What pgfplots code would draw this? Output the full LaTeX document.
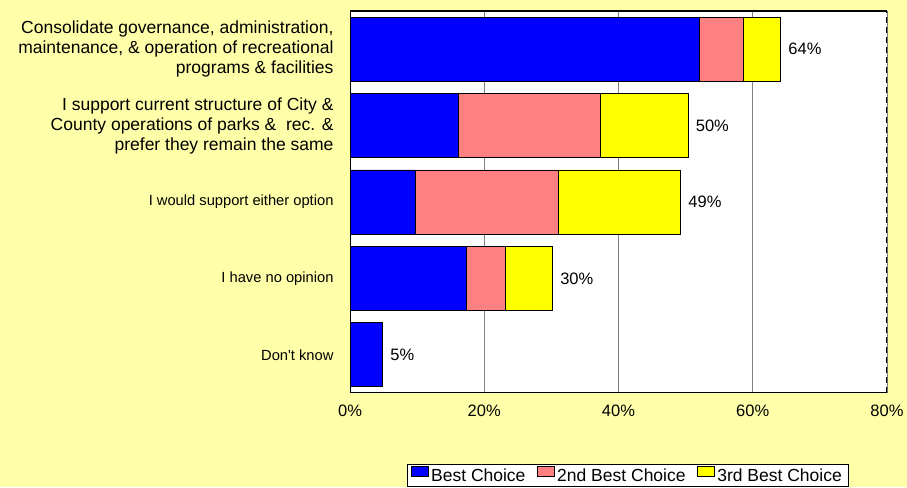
\documentclass[border=0pt]{standalone}
\usepackage{pgfplots}
\pgfplotsset{compat=1.18}
\usepackage{fontspec}
\setmainfont{Liberation Sans}
\definecolor{bg}{RGB}{255,255,170}
\definecolor{cblue}{RGB}{0,0,255}
\definecolor{cpink}{RGB}{255,128,128}
\definecolor{cyellow}{RGB}{255,255,0}
\definecolor{gridc}{RGB}{128,128,128}
\pgfplotsset{
  legsq/.style={legend image code/.code={%
    \draw[fill=#1,draw=black,line width=0.7pt] (0pt,-1pt) rectangle (17pt,9pt);}}}
\begin{document}
\begin{tikzpicture}[x=1pt,y=1pt]
\fill[bg] (0,0) rectangle (907,487);
\begin{axis}[
  at={(350pt,94pt)}, anchor=south west,
  width=537pt, height=382pt, scale only axis,
  xbar stacked, bar width=64pt,
  stacked ignores zero=false,
  xmin=0, xmax=80, ymin=-0.5, ymax=4.5,
  xtick={0,20,40,60,80},
  xticklabel={\pgfmathprintnumber{\tick}\%},
  /pgf/number format/assume math mode=true,
  xticklabel style={font=\fontsize{16.5}{19}\selectfont, yshift=-8pt},
  ytick={0,1,2,3,4},
  yticklabels={
    {\fontsize{14.7}{17}\selectfont Don\textquotesingle t know},
    {\fontsize{14.7}{17}\selectfont I have no opinion},
    {\fontsize{14.7}{17}\selectfont I would support either option},
    {I support current structure of City \&\\County operations of parks \&\ \ rec. \&\\prefer they remain the same},
    {Consolidate governance, administration,\\maintenance, \& operation of recreational\\programs \& facilities}},
  yticklabel style={font=\fontsize{17.5}{20}\selectfont, align=right, xshift=-13pt},
  tick style={draw=none},
  xmajorgrids, major grid style={gridc, line width=0.8pt},
  axis line style={draw=none},
  axis background/.style={fill=white},
  legend style={at={(0.517,-0.216)}, anchor=center, legend columns=-1,
    draw=black, line width=0.8pt, fill=white,
    font=\fontsize{17.5}{20}\selectfont, inner xsep=4pt, inner ysep=2pt,
    nodes={inner xsep=2.5pt},
    /tikz/every even column/.append style={column sep=9pt}},
  legend cell align=left,
]
\addplot[fill=cblue, draw=black, line width=0.9pt, legsq=cblue] coordinates {
  (4.9,0) (17.4,1) (9.7,2) (16.2,3) (52.0,4)};
\addlegendentry{Best Choice}
\addplot[fill=cpink, draw=black, line width=0.9pt, legsq=cpink] coordinates {
  (0,0) (5.8,1) (21.3,2) (21.1,3) (6.6,4)};
\addlegendentry{2nd Best Choice}
\addplot[fill=cyellow, draw=black, line width=0.9pt, legsq=cyellow] coordinates {
  (0,0) (7.0,1) (18.3,2) (13.1,3) (5.6,4)};
\addlegendentry{3rd Best Choice}
\addplot[draw=none, fill=none, forget plot,
  nodes near coords, point meta=explicit symbolic,
  every node near coord/.style={anchor=west, xshift=4pt, black,
    font=\fontsize{16.5}{19}\selectfont}] coordinates {
  (0,0) [5\%] (0,1) [30\%] (0,2) [49\%] (0,3) [50\%] (0,4) [64\%]};
\draw[black, line width=1.2pt] (rel axis cs:0,1) -- (rel axis cs:0,0) -- (rel axis cs:1,0);
\draw[black, line width=1.2pt] (rel axis cs:0,1) -- (rel axis cs:1,1);
\draw[black, line width=1.2pt, dash pattern=on 6pt off 4pt] (rel axis cs:1,0) -- (rel axis cs:1,1);
\end{axis}
\pgfresetboundingbox
\path[use as bounding box] (0,0) rectangle (907,487);
\end{tikzpicture}
\end{document}
